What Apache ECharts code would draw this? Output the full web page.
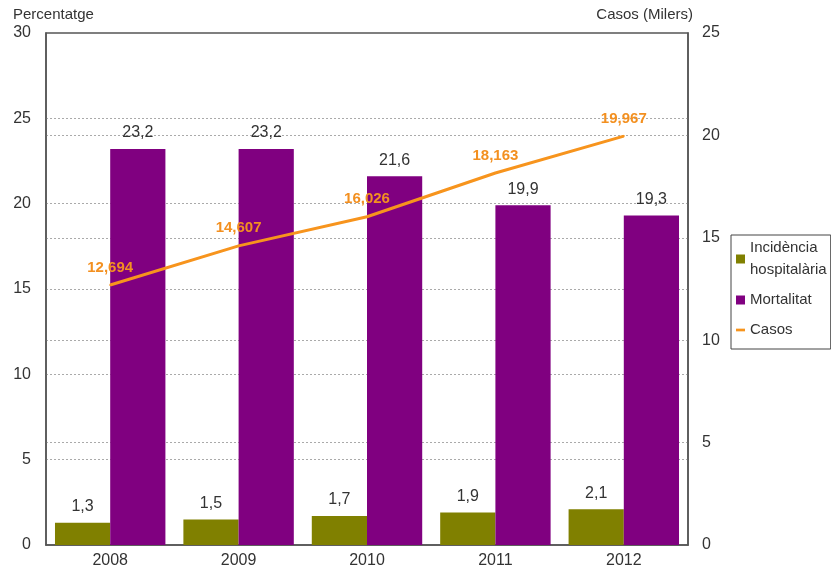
<!DOCTYPE html>
<html>
<head>
<meta charset="utf-8">
<script src="https://cdn.jsdelivr.net/npm/echarts@6/dist/echarts.min.js"></script>
<style>
  html, body { margin: 0; padding: 0; background: #fff; }
  #chart { width: 831px; height: 578px; }
</style>
</head>
<body>
<div id="chart"></div>
<script>
// Years on the category axis
const years = ['2008', '2009', '2010', '2011', '2012'];
// Hospital incidence (%)
const incidencia = [1.3, 1.5, 1.7, 1.9, 2.1];
// Mortality (%)
const mortalitat = [23.2, 23.2, 21.6, 19.9, 19.3];
// Cases (thousands)
const casos = [12.694, 14.607, 16.026, 18.163, 19.967];

const FONT = '"Liberation Sans", Arial, sans-serif';
const fmtComma = (v, d) => v.toFixed(d).replace('.', ',');
const ORANGE = '#F7941D';
const gridDots = { show: true, showMinLine: false, showMaxLine: false,
                   lineStyle: { color: '#aaa', type: [2, 2], width: 1 } };

const chart = echarts.init(document.getElementById('chart'));
chart.setOption({
  animation: false,
  backgroundColor: '#fff',
  textStyle: { fontFamily: FONT },
  grid: {
    left: 46, right: 143, top: 33, bottom: 33,
    show: true, borderColor: '#555', borderWidth: 1.5,
    containLabel: false
  },
  legend: {
    orient: 'vertical',
    left: 731, top: 235,
    padding: [2, 4, 8, 5],
    borderColor: '#444', borderWidth: 1,
    itemGap: 8,
    itemWidth: 9, itemHeight: 9,
    textStyle: { fontFamily: FONT, fontSize: 15, color: '#333', lineHeight: 22 },
    formatter: function (name) {
      return name === 'Incidència hospitalària' ? 'Incidència\nhospitalària' : name;
    },
    data: [
      { name: 'Incidència hospitalària', icon: 'rect' },
      { name: 'Mortalitat', icon: 'rect' },
      { name: 'Casos', icon: 'path://M0,0h10v3h-10z', itemStyle: { color: ORANGE } }
    ]
  },
  xAxis: {
    type: 'category',
    data: years,
    axisTick: { show: false },
    axisLine: { lineStyle: { color: '#555', width: 1.5 } },
    axisLabel: { fontFamily: FONT, fontSize: 16, color: '#333', margin: 8 }
  },
  yAxis: [
    {
      type: 'value',
      min: 0, max: 30, interval: 5,
      name: 'Percentatge',
      nameLocation: 'end',
      nameGap: 11,
      nameTextStyle: { fontFamily: FONT, fontSize: 15, color: '#333', align: 'left', padding: [0, 0, 0, -33] },
      axisLine: { show: true, lineStyle: { color: '#555', width: 1.5 } },
      axisTick: { show: false },
      axisLabel: { fontFamily: FONT, fontSize: 16, color: '#333', margin: 15 },
      splitLine: gridDots
    },
    {
      type: 'value',
      min: 0, max: 25, interval: 5,
      name: 'Casos (Milers)',
      nameLocation: 'end',
      nameGap: 11,
      nameTextStyle: { fontFamily: FONT, fontSize: 15, color: '#333', align: 'right', padding: [0, -5, 0, 0] },
      axisLine: { show: true, lineStyle: { color: '#555', width: 1.5 } },
      axisTick: { show: false },
      axisLabel: { fontFamily: FONT, fontSize: 16, color: '#333', margin: 14 },
      splitLine: gridDots
    }
  ],
  series: [
    {
      name: 'Incidència hospitalària',
      type: 'bar',
      yAxisIndex: 0,
      data: incidencia,
      barGap: '0%',
      barCategoryGap: '14%',
      itemStyle: { color: '#808000' },
      label: {
        show: true, position: 'top', distance: 8,
        fontFamily: FONT, fontSize: 16, color: '#333',
        formatter: p => fmtComma(p.value, 1)
      }
    },
    {
      name: 'Mortalitat',
      type: 'bar',
      yAxisIndex: 0,
      data: mortalitat,
      barGap: '0%',
      barCategoryGap: '14%',
      itemStyle: { color: '#800080' },
      label: {
        show: true, position: 'top', distance: 8,
        fontFamily: FONT, fontSize: 16, color: '#333',
        formatter: p => fmtComma(p.value, 1)
      }
    },
    {
      name: 'Casos',
      type: 'line',
      yAxisIndex: 1,
      data: casos,
      symbol: 'circle',
      symbolSize: 2,
      showSymbol: true,
      itemStyle: { color: ORANGE },
      lineStyle: { color: ORANGE, width: 3 },
      z: 5,
      label: {
        show: true, position: 'top', distance: 9,
        fontFamily: FONT, fontSize: 15, fontWeight: 'bold', color: '#F39020',
        formatter: p => fmtComma(p.value, 3)
      }
    }
  ]
});
</script>
</body>
</html>
